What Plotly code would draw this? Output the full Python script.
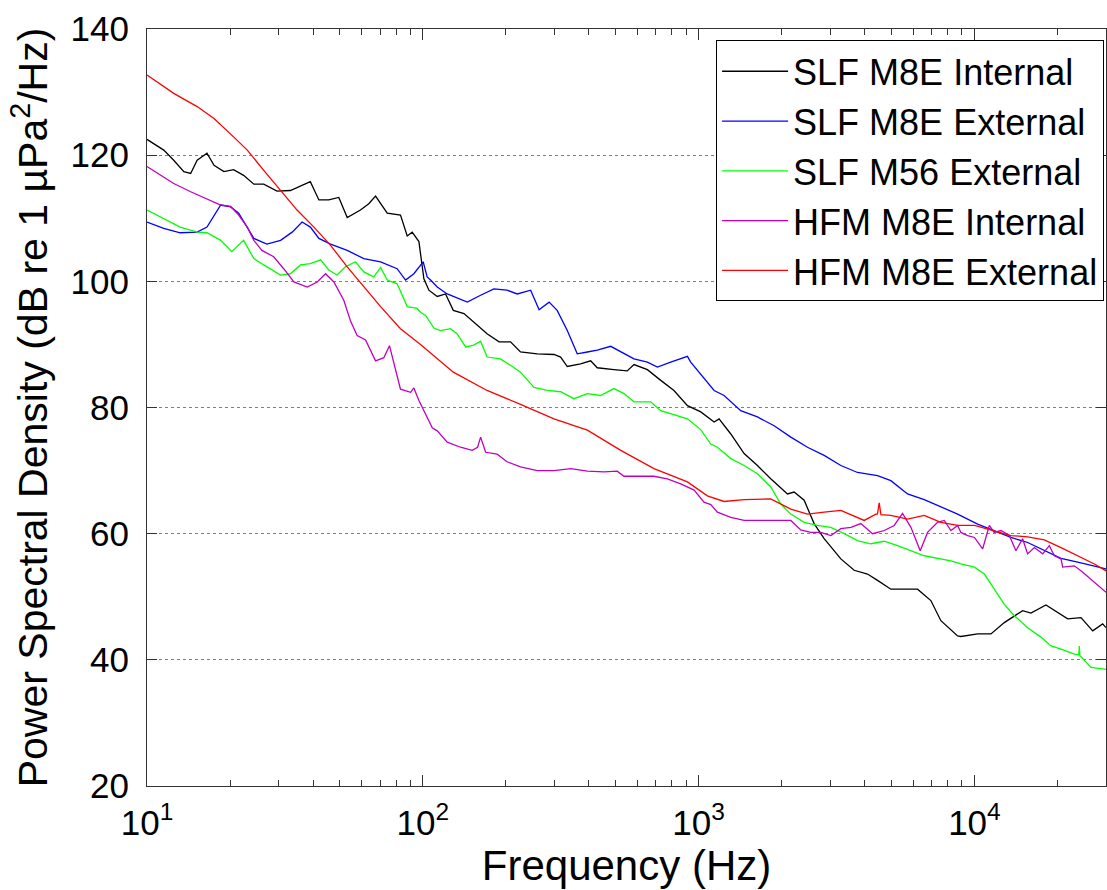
import plotly.graph_objects as go

# ---------------- data ----------------
slf_m8e_int_f = [10, 11.5, 12.5, 13.6, 14.4, 15.2, 16.5, 17.5, 19.0, 20.6, 22.4, 24.4, 26.5, 29.6,
                 33.1, 36.0, 39.1, 42.0, 45.6, 49.6, 53.2, 59.4, 63.7, 67.4, 74.3, 83.0, 87.8, 91.5,
                 96.8, 98.1, 100.9, 105.2, 112.8, 120.9, 129, 141, 153, 171, 189, 208, 226, 260, 299,
                 316, 334, 373, 406, 429, 493, 551, 583, 652, 729, 814, 911, 1018, 1138, 1186, 1308,
                 1462, 1634, 1826, 2100, 2220, 2413, 2623, 2852, 3278, 3664, 4096, 4453, 4977, 6219,
                 6951, 7557, 8690, 8933, 10270, 11480, 12830, 14950, 16030, 18170, 20030, 21780,
                 24340, 26840, 29170, 30000]
slf_m8e_int_db = [122.5, 120.8, 119.2, 117.4, 117.1, 119.2, 120.3, 118.4, 117.4, 117.7, 116.8, 115.4,
                  115.4, 114.3, 114.4, 115.1, 115.8, 112.9, 112.9, 113.3, 110.1, 111.3, 112.3, 113.5,
                  110.8, 110.5, 107.2, 107.8, 106.3, 104.4, 100.4, 98.6, 97.6, 98.0, 95.4, 94.9, 93.6,
                  91.7, 90.4, 90.4, 88.8, 88.5, 88.4, 88.0, 86.5, 86.9, 87.4, 86.3, 86.0, 85.8, 86.8,
                  86.0, 84.3, 82.7, 80.3, 79.3, 77.7, 78.2, 75.8, 72.7, 70.8, 68.7, 66.3, 66.6, 65.3,
                  61.6, 59.2, 56.0, 54.2, 53.6, 52.6, 51.2, 51.2, 49.4, 46.2, 43.8, 43.7, 44.1, 44.1,
                  45.9, 47.8, 47.4, 48.7, 47.5, 46.5, 46.7, 44.6, 45.7, 45.1]

slf_m8e_ext_f = [10, 11.5, 13.2, 15.2, 16.5, 18.5, 20.1, 21.5, 24.4, 27.2, 30.5, 33.6, 36.5, 39.1,
                 42.0, 46.3, 53.2, 61.1, 70.3, 80.7, 86.6, 92.8, 100.3, 103.7, 106.7, 112.8, 122.6,
                 145, 162, 181, 202, 220, 246, 264, 287, 307, 334, 363, 395, 429, 480, 522, 583, 652,
                 709, 792, 911, 936, 990, 1046, 1138, 1237, 1421, 1634, 1878, 2159, 2481, 2852, 3278,
                 3768, 4453, 4977, 5721, 6577, 7557, 8690, 10270, 11800, 13560, 15590, 17920, 20600,
                 23680, 27220, 30000]
slf_m8e_ext_db = [109.4, 108.4, 107.7, 107.8, 108.6, 112.1, 111.8, 110.8, 106.8, 105.9, 106.5, 107.8,
                  109.4, 108.6, 106.8, 105.9, 104.9, 103.6, 103.1, 102.0, 100.2, 101.2, 103.1, 100.7,
                  100.2, 99.1, 98.0, 96.7, 97.8, 98.8, 98.6, 98.0, 98.6, 95.5, 96.7, 95.4, 92.2, 88.5,
                  88.8, 89.1, 89.7, 88.8, 87.7, 87.2, 86.4, 87.2, 88.1, 87.2, 85.9, 84.5, 82.7, 81.9,
                  79.5, 78.5, 77.1, 75.3, 73.7, 72.4, 70.8, 69.7, 69.2, 68.4, 66.3, 65.4, 64.2, 63.1,
                  61.5, 60.5, 59.4, 58.6, 57.3, 56.1, 55.5, 54.9, 54.4]

slf_m56_ext_f = [10, 11.5, 13.2, 15.2, 16.5, 18.5, 20.3, 22.4, 24.4, 26.5, 30.5, 33.1, 36.0, 39.1,
                 42.6, 45.6, 48.9, 52.4, 57.0, 61.1, 66.4, 70.3, 74.3, 80.7, 87.8, 95.4, 98.1, 102.3,
                 109.7, 116, 126, 133, 143, 153, 162, 171, 191, 208, 226, 253, 283, 316, 353, 395,
                 441, 493, 536, 583, 670, 729, 814, 911, 1018, 1106, 1170, 1308, 1462, 1634, 1826,
                 1986, 2159, 2413, 2697, 3015, 3371, 3768, 4211, 4708, 5263, 6577, 8217, 8933, 10000,
                 10860, 11800, 12830, 13950, 15590, 17430, 18950, 20600, 23030, 23900, 24010, 24100,
                 26470, 30000]
slf_m56_ext_db = [111.3, 110.0, 108.6, 107.8, 107.7, 106.5, 104.7, 106.5, 103.6, 102.6, 101.0, 101.2,
                  102.6, 102.8, 103.4, 101.8, 101.0, 102.3, 103.1, 101.5, 100.7, 102.2, 100.2, 99.6,
                  96.0, 95.7, 95.1, 94.6, 92.6, 92.2, 92.5, 91.7, 89.6, 89.9, 90.5, 88.0, 87.7, 86.7,
                  85.6, 83.2, 82.7, 82.5, 81.4, 82.2, 81.9, 83.0, 82.2, 80.9, 80.9, 79.5, 78.8, 78.2,
                  76.5, 74.2, 73.7, 71.9, 70.8, 69.5, 67.4, 64.7, 63.1, 61.8, 61.3, 61.0, 60.0, 58.9,
                  58.4, 58.8, 58.1, 56.5, 55.7, 55.2, 54.7, 53.6, 51.2, 48.8, 47.0, 45.1, 43.6, 42.2,
                  41.7, 40.9, 40.8, 42.2, 40.7, 38.8, 38.5]

hfm_m8e_int_f = [10, 11.2, 12.5, 14.4, 16.5, 18.5, 20.1, 21.5, 23.1, 24.4, 26.1, 28.8, 31.3, 34.1,
                 38.1, 41.4, 44.4, 47.6, 51.7, 54.7, 57.8, 62.0, 67.4, 72.2, 75.7, 78.5, 83.0, 90.3,
                 92.8, 96.8, 103.7, 108.2, 112.8, 122.6, 137, 151, 158, 162, 169, 186, 202, 226, 260,
                 299, 344, 395, 454, 507, 536, 600, 689, 770, 861, 963, 1046, 1107, 1170, 1308, 1462,
                 1634, 1931, 2159, 2346, 2551, 2773, 3015, 3278, 3564, 3874, 4271, 4708, 5118, 5487,
                 5884, 6360, 6762, 7350, 7771, 8217, 8690, 8933, 9446, 10000, 10710, 11320, 11800,
                 12480, 13380, 14140, 14950, 15590, 16490, 17680, 18680, 19490, 20600, 20890, 23030,
                 24700, 27220, 30000]
hfm_m8e_int_db = [118.2, 116.8, 115.5, 114.2, 113.0, 112.1, 111.9, 110.5, 108.6, 106.5, 104.9, 103.9,
                  102.0, 99.9, 99.1, 99.9, 101.2, 99.9, 97.0, 93.7, 91.4, 90.7, 87.4, 87.9, 89.8, 86.9,
                  82.9, 82.4, 83.1, 81.1, 78.3, 76.8, 76.3, 74.5, 73.7, 73.2, 73.7, 75.3, 72.9, 72.6,
                  71.4, 70.6, 70.0, 70.0, 70.3, 69.9, 69.8, 69.9, 69.1, 69.1, 69.1, 68.7, 67.9, 66.9,
                  65.0, 64.6, 63.4, 62.6, 62.1, 62.1, 62.1, 62.1, 60.6, 60.2, 60.2, 59.7, 60.8, 61.0,
                  61.6, 60.0, 60.5, 61.3, 63.2, 61.0, 57.3, 60.2, 61.8, 62.1, 60.5, 61.3, 60.2, 59.7,
                  59.4, 57.6, 61.3, 60.2, 60.5, 59.7, 57.3, 59.2, 56.8, 57.8, 56.8, 58.1, 56.5, 56.0,
                  54.7, 54.9, 53.9, 52.3, 50.7]

hfm_m8e_ext_f = [10, 12.5, 15.2, 17.5, 20.6, 23.1, 26.5, 30.5, 35.0, 40.3, 46.3, 53.2, 61.1, 70.3,
                 83.0, 98.1, 129, 171, 226, 299, 395, 522, 689, 911, 1076, 1237, 1462, 1826, 2159,
                 2481, 2852, 3278, 3984, 4391, 4450, 4516, 4580, 4977, 5721, 6577, 7557, 8690, 10000,
                 11800, 13560, 15590, 17920, 20600, 23680, 27220, 30000]
hfm_m8e_ext_db = [132.7, 129.8, 127.7, 125.8, 122.9, 120.8, 117.6, 114.5, 111.3, 108.6, 105.7, 102.3,
                  99.1, 96.0, 92.5, 90.0, 85.6, 82.7, 80.5, 78.2, 76.4, 73.2, 70.3, 68.2, 66.0, 65.1,
                  65.4, 65.5, 63.9, 63.1, 63.4, 63.7, 62.1, 63.1, 63.1, 64.9, 63.0, 62.9, 62.3, 62.9,
                  61.8, 61.3, 61.3, 60.4, 59.7, 59.5, 59.0, 57.8, 56.5, 55.2, 54.1]

series_names = ["SLF M8E Internal", "SLF M8E External", "SLF M56 External",
                "HFM M8E Internal", "HFM M8E External"]
series_f = [slf_m8e_int_f, slf_m8e_ext_f, slf_m56_ext_f, hfm_m8e_int_f, hfm_m8e_ext_f]
series_db = [slf_m8e_int_db, slf_m8e_ext_db, slf_m56_ext_db, hfm_m8e_int_db, hfm_m8e_ext_db]
series_colors = ["#000000", "#0000FF", "#00FF00", "#C000C0", "#FF0000"]

y_ticks = [20, 40, 60, 80, 100, 120, 140]
x_ticks = [10, 100, 1000, 10000]
x_ticktext = ["10<sup>1</sup>", "10<sup>2</sup>", "10<sup>3</sup>", "10<sup>4</sup>"]
x_minor = [m * d for d in (10, 100, 1000) for m in range(2, 10)] + [20000, 30000]

FONT = "Liberation Sans, Arial, Helvetica, sans-serif"

fig = go.Figure()
for name, f, db, col in zip(series_names, series_f, series_db, series_colors):
    fig.add_trace(go.Scatter(x=f, y=db, mode="lines", name=name,
                             line=dict(color=col, width=1.3)))

fig.update_layout(
    width=1107, height=890,
    margin=dict(l=147, r=1, t=29, b=104, autoexpand=False),
    paper_bgcolor="white", plot_bgcolor="white",
    font=dict(family=FONT, color="black"),
    showlegend=True,
    legend=dict(x=0.998, y=0.985, xanchor="right", yanchor="top",
                bgcolor="white", bordercolor="black", borderwidth=1,
                font=dict(size=36, family=FONT, color="black"),
                itemwidth=66, tracegroupgap=0,
                entrywidth=405, entrywidthmode="pixels"),
)
fig.update_xaxes(
    type="log", range=[1, 4.477],
    tickvals=x_ticks, ticktext=x_ticktext,
    ticks="inside", ticklen=11, tickcolor="#333333",
    showline=True, linecolor="#333333", linewidth=1, mirror="allticks",
    showgrid=False, zeroline=False,
    tickfont=dict(size=35, family=FONT, color="black"),
    ticklabelstandoff=6,
    minor=dict(tickvals=x_minor, ticks="inside", ticklen=6, tickcolor="#333333", showgrid=False),
    title=dict(text="Frequency (Hz)", font=dict(size=42, family=FONT, color="black"), standoff=6),
)
fig.update_yaxes(
    range=[20, 140], tickvals=y_ticks,
    ticks="inside", ticklen=10, tickcolor="#333333",
    showline=True, linecolor="#333333", linewidth=1, mirror="allticks",
    showgrid=True, gridcolor="#7f7f7f", griddash="dot", gridwidth=1, zeroline=False,
    tickfont=dict(size=35, family=FONT, color="black"),
    ticklabelstandoff=10,
    title=dict(text="Power Spectral Density (dB re 1 µPa<sup>2</sup>/Hz)",
               font=dict(size=41, family=FONT, color="black"), standoff=10),
)

fig.write_html("out.html")
